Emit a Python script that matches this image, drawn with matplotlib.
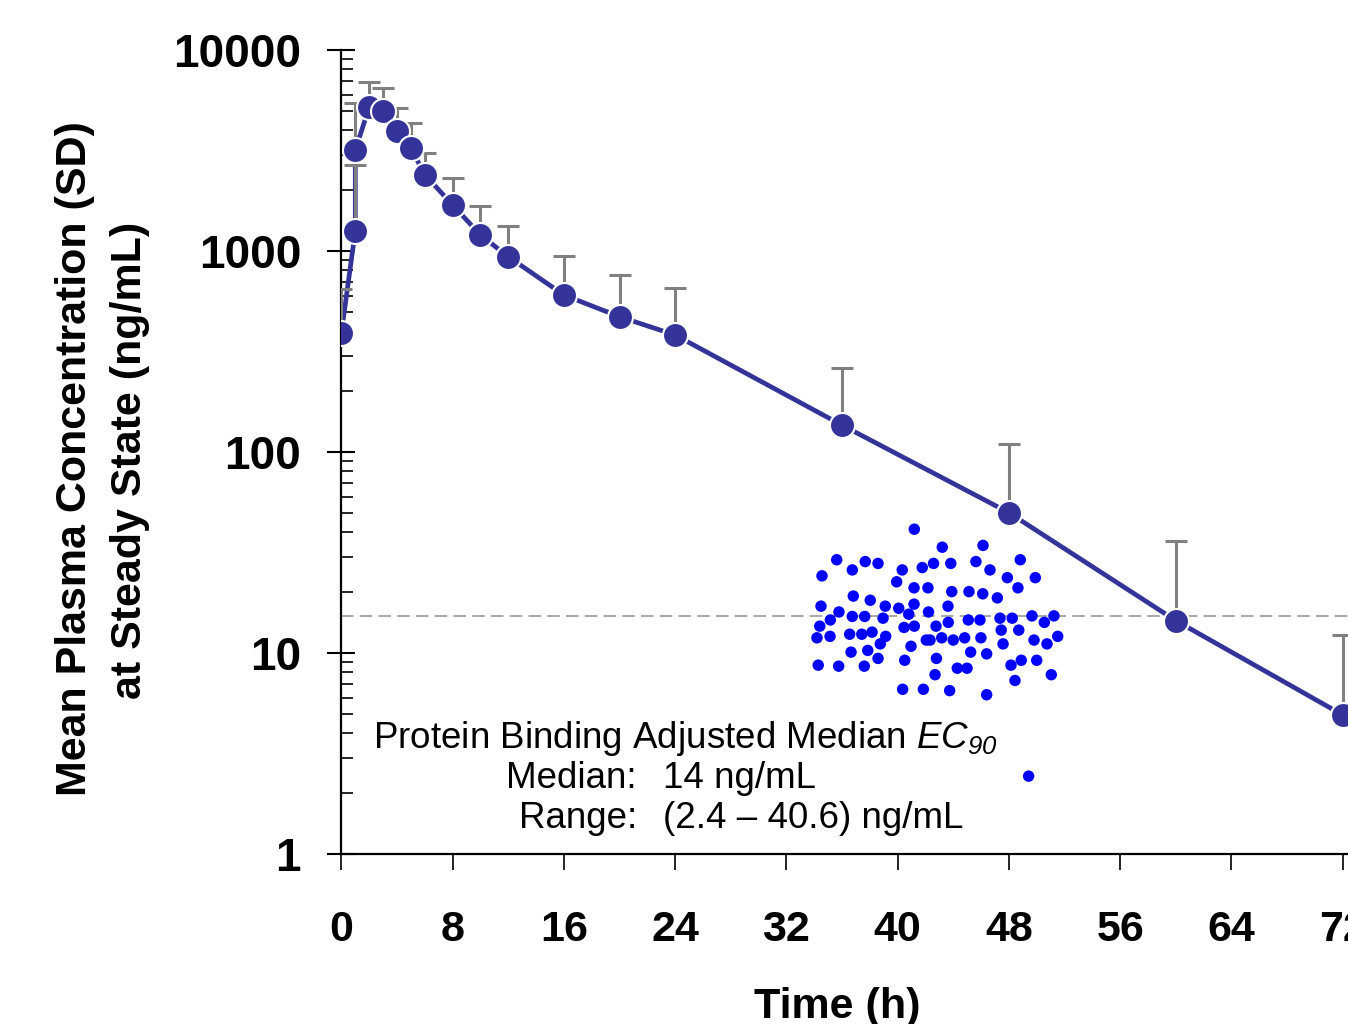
import matplotlib
matplotlib.use("Agg")
import matplotlib.pyplot as plt
import numpy as np

# mean plasma concentration profile (ng/mL) with upper SD
time_h = [0, 1, 1, 2, 3, 4, 5, 6, 8, 10, 12, 16, 20, 24, 36, 48, 60, 72]
mean_conc = [392, 1262, 3179, 5203, 4989, 3969, 3243, 2397, 1694, 1201, 937,
             604, 471, 382, 136, 49.9, 14.5, 4.92]
sd_conc = [257, 1417, 2271, 1754, 1502, 1196, 1105, 688, 606, 479, 399,
           344, 289, 270, 125, 60, 21.7, 7.4]

# individual protein binding adjusted EC90 values (jittered along x)
ec90_x = [41.20, 43.21, 35.62, 34.56, 36.74, 37.67, 38.59, 40.33, 41.77, 42.58,
          39.93, 41.18, 42.18, 34.49, 36.81, 38.03, 39.11, 40.08, 41.18, 42.22,
          35.78, 35.16, 36.74, 37.63, 38.95, 40.80, 34.40, 34.20, 35.14, 36.55,
          37.42, 38.16, 39.14, 40.46, 41.20, 42.76, 42.33, 38.75, 40.96, 42.06,
          36.65, 37.85, 38.59, 40.51, 42.79, 34.29, 35.76, 37.60, 42.69, 40.36,
          41.85, 46.14, 43.82, 45.63, 46.64, 48.82, 47.89, 49.90, 48.65, 43.89,
          45.13, 46.12, 47.17, 43.62, 43.64, 45.08, 45.92, 47.36, 48.24, 49.66,
          50.55, 51.24, 47.45, 48.71, 43.17, 44.00, 44.82, 45.99, 47.58, 49.81,
          50.74, 51.51, 45.25, 46.40, 44.29, 44.99, 48.15, 48.89, 50.00, 51.05,
          48.44, 43.74, 46.40, 49.42]
ec90_y = [41.3, 33.6, 29.1, 24.2, 25.9, 28.5, 27.9, 25.9, 26.6, 27.9,
          22.6, 21.1, 21.1, 17.1, 19.2, 18.3, 17.1, 16.7, 17.5, 16.0,
          16.0, 14.6, 15.2, 15.2, 14.9, 15.6, 13.6, 11.9, 12.1, 12.4,
          12.4, 12.7, 12.1, 13.4, 13.6, 13.6, 11.6, 11.1, 10.8, 11.6,
          10.1, 10.3, 9.4, 9.2, 9.4, 8.7, 8.6, 8.6, 7.8, 6.6,
          6.6, 34.3, 27.9, 28.5, 25.9, 29.1, 23.7, 23.7, 21.1, 20.2,
          20.2, 19.7, 18.8, 17.1, 14.2, 14.6, 14.6, 14.9, 14.9, 15.3,
          14.2, 15.3, 13.0, 13.0, 11.9, 11.6, 11.9, 11.9, 11.1, 11.6,
          11.1, 12.1, 10.1, 9.9, 8.4, 8.4, 8.7, 9.2, 9.2, 7.8,
          7.3, 6.5, 6.2, 2.44]
ec90_line = 15.3

y_ticks = [1, 10, 100, 1000, 10000]
y_tick_labels = ["1", "10", "100", "1000", "10000"]
x_ticks = [0, 8, 16, 24, 32, 40, 48, 56, 64, 72]

plt.rcParams['font.family'] = ['Liberation Sans', 'DejaVu Sans']
plt.rcParams['mathtext.fontset'] = 'custom'
plt.rcParams['mathtext.rm'] = 'Liberation Sans:italic'
plt.rcParams['mathtext.it'] = 'Liberation Sans:italic'

W, H = 1348, 1024
fig = plt.figure(figsize=(W / 100, H / 100), dpi=100)
ax = fig.add_axes([341.4 / W, (H - 854) / H, 73 * 13.906 / W, 804 / H])

# EC90 scatter and median line
ax.axhline(ec90_line, color='#aaaaaa', lw=1.5, ls=(0, (6, 3)), zorder=1)
ax.scatter(ec90_x, ec90_y, s=68, color='#0000ff', edgecolors='none', zorder=2)

# mean profile
ax.plot(time_h, mean_conc, color='#333399', lw=3.4, zorder=3)
ax.errorbar(time_h, mean_conc, yerr=[np.zeros(len(sd_conc)), sd_conc],
            fmt='none', ecolor='#808080', elinewidth=2.2, capsize=8,
            capthick=2.2, zorder=4)
ax.plot(time_h, mean_conc, 'o', color='#333399', markersize=18,
        markeredgecolor='white', markeredgewidth=1.5, zorder=5)

ax.set_yscale('log')
ax.set_ylim(1, 10000)
ax.set_xlim(0, 73)
ax.set_yticks(y_ticks)
ax.set_yticklabels(y_tick_labels)
ax.set_xticks(x_ticks)
ax.set_xticklabels([str(t) for t in x_ticks])

for s in ['top', 'right']:
    ax.spines[s].set_visible(False)
for s in ['left', 'bottom']:
    ax.spines[s].set_linewidth(1.6)

ax.tick_params(axis='y', which='major', direction='inout', length=20,
               width=1.5, pad=19, labelsize=33)
ax.tick_params(axis='y', which='minor', direction='in', length=8.6, width=1.2)
ax.tick_params(axis='x', which='major', direction='out', length=11.5,
               width=1.2, pad=29, labelsize=31)
for lab in ax.get_xticklabels() + ax.get_yticklabels():
    lab.set_fontweight('bold')

# axis titles
fig.text(75 / W, 1 - 459 / H, "Mean Plasma Concentration (SD)", rotation=90,
         ha='center', va='center', fontsize=31, fontweight='bold')
fig.text(130 / W, 1 - 460 / H, "at Steady State (ng/mL)", rotation=90,
         ha='center', va='center', fontsize=31, fontweight='bold')
fig.text(837 / W, 1 - 1018 / H, "Time (h)", ha='center', va='baseline',
         fontsize=31, fontweight='bold')

# annotation
fig.text(373 / W, 1 - 748 / H, r"Protein Binding Adjusted Median $EC_{90}$",
         ha='left', va='baseline', fontsize=26.5)
fig.text(637 / W, 1 - 788 / H, "Median:", ha='right', va='baseline', fontsize=26.5)
fig.text(663 / W, 1 - 788 / H, "14 ng/mL", ha='left', va='baseline', fontsize=26.5)
fig.text(637 / W, 1 - 828 / H, "Range:", ha='right', va='baseline', fontsize=26.5)
fig.text(663 / W, 1 - 828 / H, "(2.4 \u2013 40.6) ng/mL", ha='left', va='baseline',
         fontsize=26.5)

fig.savefig("out.png", dpi=100)
